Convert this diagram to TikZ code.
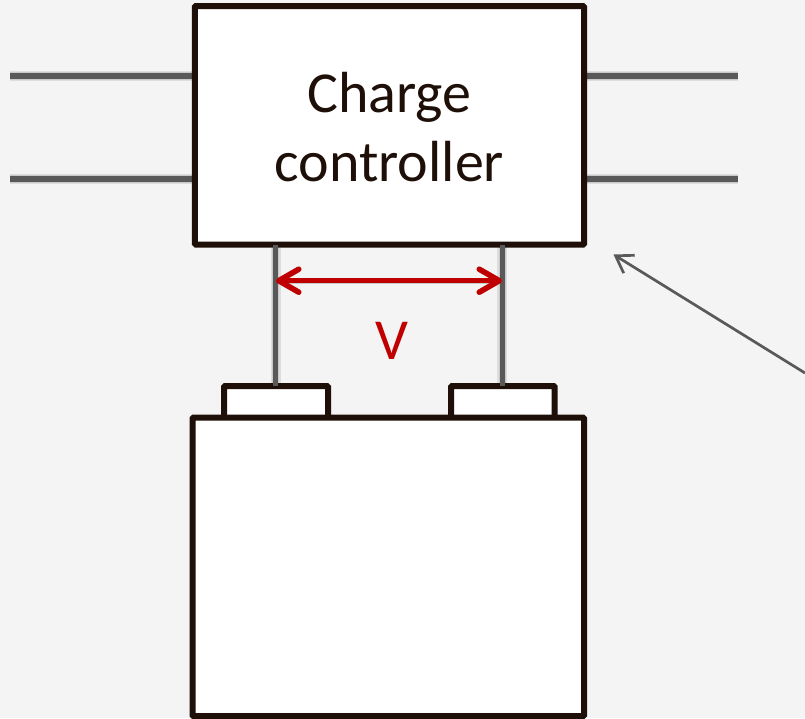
\documentclass[tikz,border=0pt]{standalone}
\usepackage{fontspec}
\setmainfont{Carlito}
\usetikzlibrary{arrows.meta}
\definecolor{bg}{HTML}{F4F4F4}
\definecolor{outline}{HTML}{1E1008}
\definecolor{wire}{HTML}{595959}
\definecolor{vred}{HTML}{C00000}
\tikzset{
  x=1pt,y=-1pt,
  box/.style={draw=outline,fill=white,line width=6pt,rounded corners=1pt,inner sep=0pt,outer sep=0pt},
  wireline/.style={draw=wire,line width=6pt},
  soft/.style={draw=black,opacity=0.09,shift={(1.5pt,-3pt)}},
  softa/.style={soft,line width=10pt},
  softb/.style={soft,line width=7.5pt},
  softc/.style={soft,line width=5.5pt},
  redtip/.tip={Straight Barb[length=20pt,width=23pt,round,line width=5.5pt]},
}
\begin{document}
\begin{tikzpicture}
\useasboundingbox (0,0) rectangle (805,718);
\fill[bg] (0,0) rectangle (805,718);
% anchors of the wires
\coordinate (la) at (10,76); \coordinate (lb) at (10,179);
\coordinate (ra) at (738,76); \coordinate (rb) at (738,179);
\coordinate (cla) at (194,76); \coordinate (clb) at (194,179);
\coordinate (cra) at (584,76); \coordinate (crb) at (584,179);
\coordinate (wlt) at (275.7,245); \coordinate (wlb) at (275.7,385.5);
\coordinate (wrt) at (502.3,245); \coordinate (wrb) at (502.3,385.5);
\coordinate (vl) at (276,280.7); \coordinate (vr) at (502,280.7);
\coordinate (far) at (805,373); \coordinate (pt) at (613.5,254.5);
% soft shadows
\foreach \a/\b in {la/cla,lb/clb,cra/ra,crb/rb,wlt/wlb,wrt/wrb}{
  \draw[softa] (\a) -- (\b);
  \draw[softb] (\a) -- (\b);
  \draw[softc] (\a) -- (\b);
}
\foreach \s in {softb,softc}{
  \draw[\s,line width=6pt,redtip-redtip] (vl) -- (vr);
}
% wires
\draw[wireline] (la) -- (cla);
\draw[wireline] (lb) -- (clb);
\draw[wireline] (cra) -- (ra);
\draw[wireline] (crb) -- (rb);
% boxes
\node[box,anchor=north west,minimum width=389.2pt,minimum height=238.5pt] (cc) at (194.8,6) {};
\node[align=center,font=\fontsize{58}{69}\selectfont,text=outline,inner sep=0pt,yshift=-2pt] (cctext) at (cc) {Charge\\controller};
\node[box,anchor=north west,minimum width=104pt,minimum height=32pt] (tl) at (224,386) {};
\node[box,anchor=north west,minimum width=103.7pt,minimum height=32pt] (tr) at (451,386) {};
\node[box,anchor=north west,minimum width=391.5pt,minimum height=298.5pt] (bat) at (192.5,417.5) {};
% terminal wires
\draw[wireline,line width=5.5pt] (wlt) -- (wlb);
\draw[wireline,line width=5.5pt] (wrt) -- (wrb);
% voltage arrow
\draw[draw=vred,line width=5pt,redtip-redtip] (vl) -- (vr);
\node[text=vred,font=\fontsize{58}{60}\selectfont,inner sep=0pt] (v) at (391.5,341) {V};
% pointer
\draw[draw=wire,line width=2.7pt,-{Straight Barb[length=16pt,width=21pt,line width=2.7pt]}] (far) -- (pt);
\end{tikzpicture}
\end{document}
